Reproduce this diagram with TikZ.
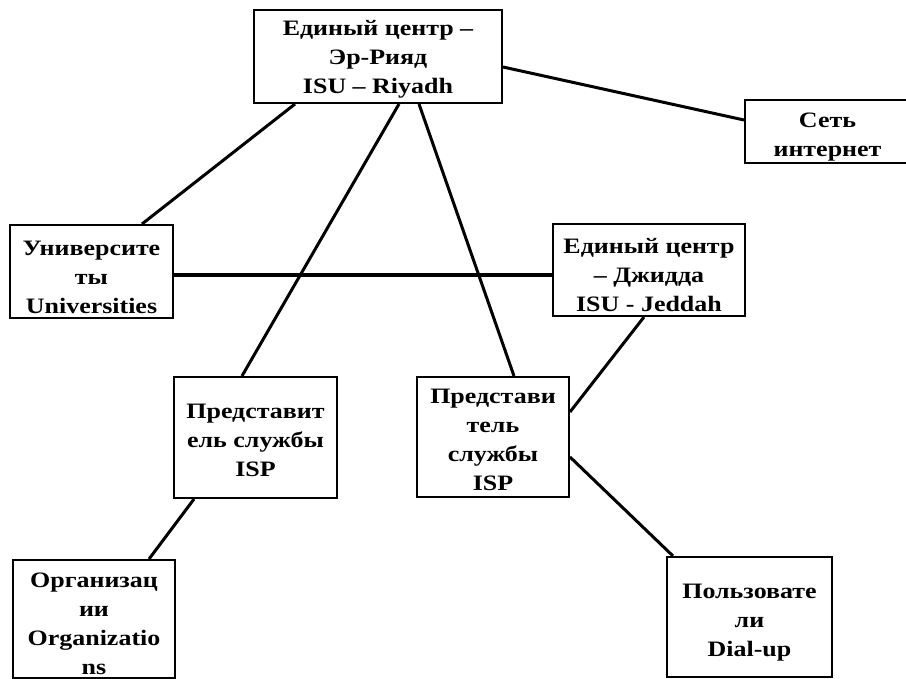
\documentclass[tikz,border=0pt]{standalone}
\usepackage{fontspec}
\setmainfont{Liberation Serif}[FakeStretch=1.18]
\usetikzlibrary{calc}

\begin{document}
\begin{tikzpicture}[x=0.5pt, y=-0.5pt, thick]
\tikzstyle{box}=[draw, line width=1pt, align=center, inner sep=0.5pt, text depth=0pt,
   font=\bfseries\fontsize{11}{14.5}\selectfont]
\tikzstyle{link}=[line width=1.5pt]
\useasboundingbox (0,0) rectangle (906,679);

\node[box, minimum width=124pt, minimum height=46.5pt] (riyadh) at (378, 56.5) {Единый центр –\\Эр-Рияд\\ISU – Riyadh};
\node[box, text height=25.3pt, minimum width=82.5pt, minimum height=31.5pt] (internet) at (827.5, 131.5) {Сеть\\интернет};
\node[box, text height=41.8pt, minimum width=81.5pt, minimum height=46.5pt] (univ) at (91.5, 271.5) {Университе\\ты\\Universities};
\node[box, text height=41.3pt, minimum width=96pt, minimum height=46pt] (jeddah) at (649, 270) {Единый центр\\– Джидда\\ISU - Jeddah};
\node[box, text height=38.8pt, minimum width=81.5pt, minimum height=60.5pt] (isp1) at (255.5, 437.5) {Представит\\ель службы\\ISP};
\node[box, text height=53.8pt, minimum width=76pt, minimum height=60pt] (isp2) at (493, 437) {Представи\\тель\\службы\\ISP};
\node[box, text height=39.3pt, minimum width=82.5pt, minimum height=60pt] (dialup) at (749.5, 617) {Пользовате\\ли\\Dial-up};
\node[box, text height=55.8pt, minimum width=81pt, minimum height=59pt] (org) at (94, 619) {Организац\\ии\\Organizatio\\ns};

\coordinate (uj) at ($(univ.east)+(0,3.5)$);
\path[link]
   ($(riyadh.south)+(-83,0)$) edge ($(univ.north)+(50.5,0)$)
   ($(riyadh.south)+(21,0)$) edge ($(isp1.north)+(-13.5,0)$)
   ($(riyadh.south)+(41,0)$) edge ($(isp2.north)+(21,0)$)
   ($(riyadh.east)+(0,10.5)$) edge ($(internet.west)+(0,-11.5)$)
   (uj) edge[line width=2pt] (uj -| jeddah.west)
   ($(jeddah.south)+(-5,0)$) edge ($(isp2.east)+(0,-25)$)
   ($(isp2.east)+(0,20)$) edge ($(dialup.north)+(-76.5,0)$)
   ($(isp1.south)+(-61.5,0)$) edge ($(org.north)+(55,0)$)
   ;
\end{tikzpicture}
\end{document}
